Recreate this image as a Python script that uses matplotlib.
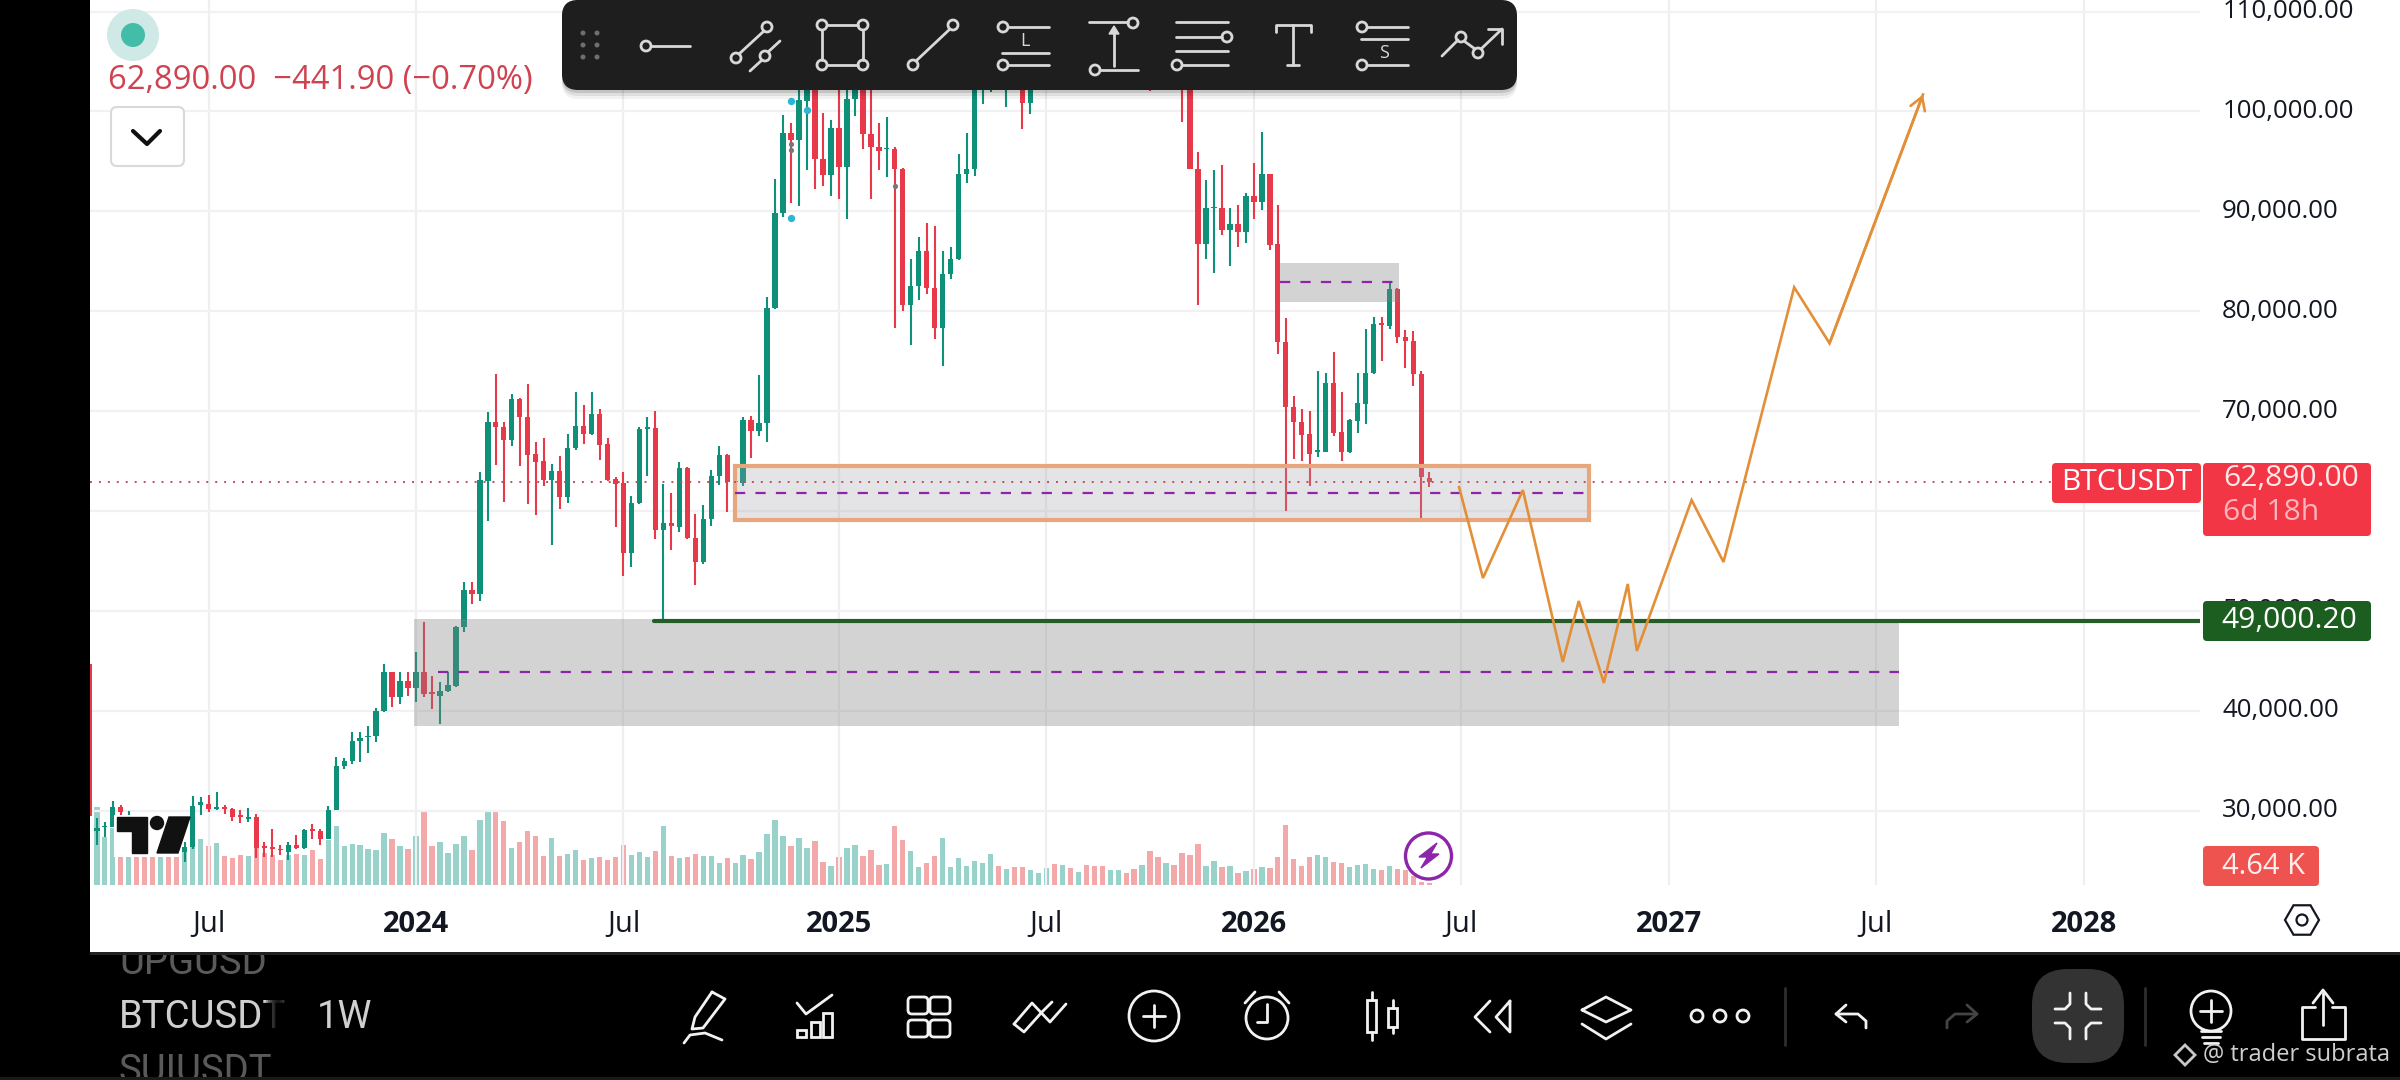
import numpy as np
import pandas as pd
import matplotlib
matplotlib.use("Agg")
import matplotlib.pyplot as plt
import matplotlib.dates as mdates
from matplotlib import patches
from matplotlib.transforms import ScaledTranslation

plt.rcParams['font.family'] = ['Open Sans', 'DejaVu Sans']

# weekly candles (hidden ones behind logo / toolbar are estimates)
opens = [44700,
    28000,28400,28400,30400,27000,27400,27000,26800,26500,27500,
    26200,25900,26400,30600,30700,30200,30370,30130,29530,29130,
    29400,26470,26370,26200,25870,26600,26270,28130,28000,27130,
    30030,34530,35030,37030,37370,37470,40000,43870,41370,43030,
    42270,43930,41870,41530,42030,42530,48370,52130,51700,63030,
    68930,68370,67130,71200,69370,65700,65000,63130,64030,61370,
    66270,68470,67700,69700,66700,63200,62800,55800,60800,68200,
    68270,58130,58800,58400,64270,57270,54870,59200,63530,65600,
    62930,62800,69100,68030,68800,80370,89800,97800,97130,101030,
    104500,95200,93600,98370,94470,101270,104500,97700,96470,96200,
    96200,94270,80600,82530,86030,82370,78370,83770,85200,93700,
    94270,103500,104400,106000,104000,105500,106000,100870,107500,109000,
    117500,116000,118500,113500,117500,115500,111500,108500,111000,115500,
    115300,109500,112000,109500,107000,110000,105000,103000,94270,86700,
    90330,90370,88130,88700,87930,91530,90930,93700,86700,76930,
    70370,68870,67700,65930,65930,72800,67870,65930,69030,70700,
    73800,78800,78530,82200,77470,77030,73700,63332]
highs = [44700,
    29300,28900,31000,30600,30000,27700,27400,27200,27800,27700,
    26900,26900,31500,31400,31600,31870,30530,30270,30030,30270,
    29700,26870,28200,26600,26870,27600,28130,28700,28130,30470,
    35370,35270,37870,37930,38470,40270,44700,43870,43870,43870,
    45870,48930,43530,42870,43870,48530,52870,52930,63930,69930,
    73700,68930,71700,71300,72700,66870,67270,64700,65470,67700,
    71900,70600,71900,70200,67270,63370,63870,61470,68370,69400,
    70050,62700,61800,64930,64370,59700,60600,64130,66470,65700,
    64600,69370,69530,73600,81470,93270,99600,98870,104000,106000,
    106500,99870,99130,103000,105000,106000,106500,103000,98800,99470,
    96470,94370,85270,87470,88800,88530,86030,86470,95700,97870,
    105000,106000,107000,111000,109000,110000,108000,110000,112000,118000,
    123000,120000,119500,119000,124000,117000,113500,113000,116500,118000,
    116000,114000,114000,111500,111000,111000,107000,105000,95930,93130,
    94130,94600,90370,90600,91800,94800,97930,93700,90600,79370,
    71470,70200,70030,74030,73870,75930,71930,69200,73800,78270,
    79470,79470,82800,82370,78130,78030,74030,63870]
lows = [29500,
    26600,27400,28400,27200,26900,26600,26300,26200,26400,26000,
    25600,24900,26200,29600,29870,30030,29630,28930,28800,28870,
    25270,25370,25370,25600,25030,26200,26130,27200,26600,27130,
    30030,34200,34700,34930,35800,36870,39930,40370,40700,41530,
    40870,41370,40200,38700,41930,42370,47870,50700,51030,59030,
    64630,60870,66470,64530,60700,59600,62470,56600,60200,60800,
    66130,66700,67600,65130,63030,58370,53530,54370,60700,63530,
    57200,49000,56130,57870,57200,52600,54700,58530,62600,59930,
    59030,62530,65270,67530,66930,80270,89470,90870,90530,94130,
    92200,92530,91530,91200,89270,99530,96200,91270,94130,93470,
    78370,80030,76600,81130,81700,77270,74530,83200,85130,92870,
    93530,100700,102000,103000,100430,103000,98200,99700,105500,108000,
    115000,114500,112000,112500,116500,110500,107500,107500,110500,114500,
    108500,108000,102030,105000,104000,103500,98930,94200,80600,85270,
    83800,87600,84530,86470,86800,89270,90130,86130,75700,60030,
    65200,65030,62530,65370,65930,67470,65030,65800,67800,68700,
    73700,75030,78270,76870,74370,72530,59200,62430]
closes = [29500,
    28300,28500,30400,29900,27400,27000,26800,26500,27500,26200,
    25900,26400,30500,30900,30130,30400,30200,29330,29330,29370,
    26270,26270,26200,26030,26530,26270,28030,28000,27130,30030,
    34530,35030,37030,37330,37530,40000,43870,41370,43030,42270,
    43930,41700,41730,42030,42600,48370,52130,51730,63130,68930,
    68370,67130,71200,69370,65600,64930,63130,64030,61370,66270,
    68470,67700,69700,66600,63130,62700,55800,60800,68200,68370,
    58130,58800,58470,64270,57270,54870,59200,63530,65600,62870,
    63000,69100,68030,68800,80370,89870,97870,97130,101130,104500,
    95200,93600,98370,94470,101270,104500,97700,96470,96030,96300,
    94270,80600,82530,86030,82370,78370,83770,85200,93700,94270,
    103500,104500,106000,104000,105500,104000,100870,107500,109000,117500,
    116000,118500,113500,117500,115500,111500,108500,111000,115500,115300,
    109500,112000,109500,107000,110000,105000,103000,94270,86700,90370,
    90470,88130,88700,87930,91530,90930,93700,86600,76930,70370,
    68870,67600,65700,66100,72800,67800,65930,69130,70800,73800,
    78700,78670,82200,77470,77030,73700,63370,62890]
# volume in thousands
volumes = [0,
    210,130,153,144,120,110,100,105,100,95,
    110,99,108,123,105,114,78,72,81,78,
    99,87,81,68,81,84,81,95,70,122,
    158,105,111,108,97,95,140,123,105,97,
    132,198,104,116,87,111,132,95,176,203,
    201,174,99,116,146,132,78,126,78,83,
    95,68,72,75,68,75,108,81,89,75,
    92,158,78,73,75,84,77,78,60,74,
    60,81,70,90,138,176,131,104,126,99,
    119,63,50,75,99,108,78,95,54,57,
    158,122,92,48,60,78,126,48,73,51,
    65,60,84,51,43,48,48,41,32,45,
    57,54,45,35,53,51,50,41,41,32,
    42,54,92,75,60,54,87,81,111,51,
    65,48,51,32,38,43,49,45,75,162,
    69,51,75,81,75,61,59,48,53,56,
    42,41,51,43,41,23,9,4.64]
week_dates = pd.date_range("2023-03-20", periods=len(opens), freq="7D")

price_ticks = [30000, 40000, 50000, 60000, 70000, 80000, 90000, 100000, 110000]
time_ticks = ["2023-07-03", "2024-01-01", "2024-07-01", "2025-01-06", "2025-07-07",
              "2026-01-05", "2026-07-06", "2027-01-04", "2027-07-05", "2028-01-03"]
time_labels = ["Jul", "2024", "Jul", "2025", "Jul", "2026", "Jul", "2027", "Jul", "2028"]

# drawing on the chart
path_dates = ["2026-07-04", "2026-07-25", "2026-08-29", "2026-10-03", "2026-10-17", "2026-11-08",
              "2026-11-29", "2026-12-07", "2027-01-24", "2027-02-21", "2027-04-24", "2027-05-25", "2027-08-15"]
path_prices = [62400, 53300, 62100, 44900, 51000, 42800, 52700, 46000, 61100, 54900, 82400, 76800, 101700]
big_zone = ["2023-12-30", "2027-07-25", 38530, 49200, 43900]
top_zone = ["2026-01-28", "2026-05-12", 80930, 84800, 82930]
mid_zone = ["2024-10-07", "2026-10-26", 59130, 64500, 61800]
last_price = 62890.00
support = 49000.20
support_start = "2024-07-28"

W, H = 2400, 1080
CHART_R, CHART_B = 2200, 885
GREEN, RED = '#0f9078', '#e8394a'
VOL_G, VOL_R = '#98d2cb', '#f3a9aa'
PURPLE = '#8e24aa'
LABEL_FS = 21.6


def dnum(s):
    return mdates.date2num(pd.Timestamp(s))


x = mdates.date2num(week_dates)
o, h, l, c = map(np.array, (opens, highs, lows, closes))
up = c >= o

fig = plt.figure(figsize=(24, 10.8), dpi=100, facecolor='white')
ax = fig.add_axes([90 / W, (H - CHART_B) / H, (CHART_R - 90) / W, CHART_B / H], zorder=2)
ax.patch.set_visible(False)
ax_vol = ax.twinx()
ax_vol.set_zorder(1)
ax_vol.patch.set_visible(True)
ax_vol.patch.set_facecolor('white')

ax.set_xlim(dnum("2023-03-21"), dnum("2028-04-14"))
ax.set_ylim(22570, 111160)

# volume pane sits on the same baseline, 2.7K per pixel
ax_vol.bar(x, volumes, width=4.7, color=[VOL_G if u else VOL_R for u in up], linewidth=0)
ax_vol.set_ylim(0, CHART_B * 2.7)
ax_vol.set_yticks([])

# candles
colors = [GREEN if u else RED for u in up]
ax.vlines(x, l, h, colors=colors, linewidth=1.5, zorder=3)
ax.bar(x, np.abs(c - o), bottom=np.minimum(o, c), width=4.7, color=colors, linewidth=0, zorder=3)

# small signal dots on the candles
ax.scatter(x[[88, 88, 90]], [101030, 89370, 100130], s=28, color='#2bb7d2', zorder=4, linewidth=0)
ax.scatter(x[[88, 88, 101]], [96770, 96130, 92530], s=14, color='#777777', zorder=4, linewidth=0)

# axes, grid
ax.set_xticks([dnum(t) for t in time_ticks], time_labels)
ax.set_yticks(price_ticks, [f"{p:,.2f}" for p in price_ticks])
ax.yaxis.tick_right()
ax.tick_params(axis='both', length=0, colors='#131722')
ax.tick_params(axis='y', labelsize=18.6, pad=16)
ax.tick_params(axis='x', labelsize=21, pad=18)
for lab, txt in zip(ax.get_xticklabels(), time_labels):
    if txt != "Jul":
        lab.set_fontweight('bold')
# the scale text sits a little above its gridline
for lab in ax.get_yticklabels():
    lab.set_transform(lab.get_transform() + ScaledTranslation(0, 3 / 100, fig.dpi_scale_trans))
ax.grid(axis='y', color='#f1f1f3', linewidth=1.6)
ax_vol.xaxis.set_visible(True)
ax_vol.tick_params(axis='x', length=0, labelbottom=False)
ax_vol.grid(axis='x', color='#efeff1', linewidth=1.6)
for a in (ax, ax_vol):
    for s in a.spines.values():
        s.set_visible(False)


def zone(z, face, edge=None, lw=0.0, dash_from=None):
    x0, x1 = dnum(z[0]), dnum(z[1])
    ax.add_patch(patches.Rectangle((x0, z[2]), x1 - x0, z[3] - z[2], facecolor=face,
                                   edgecolor=edge if edge else 'none', linewidth=lw, zorder=5))
    ax.plot([dnum(dash_from) if dash_from else x0, x1], [z[4], z[4]], color=PURPLE, linewidth=1.6,
            linestyle=(0, (4.6, 4.6)), zorder=6)


zone(big_zone, (0.5, 0.5, 0.5, 0.34), dash_from="2024-01-20")
zone(top_zone, (0.5, 0.5, 0.5, 0.34))
zone(mid_zone, (0.62, 0.62, 0.66, 0.28), edge='#e8a67d', lw=3.0)

ax.axhline(last_price, color='#b9525e', linewidth=1.4, linestyle=(0, (1, 3.6)), zorder=6)
ax.plot([dnum(support_start), ax.get_xlim()[1]], [support, support], color='#255c28', linewidth=3,
        solid_capstyle='round', zorder=6)

px, py = [dnum(d) for d in path_dates], path_prices
ax.plot(px, py, color='#e38f38', linewidth=1.9, zorder=7, solid_joinstyle='miter')
ax.annotate("", xy=(px[-1], py[-1]), xytext=(px[-2], py[-2]),
            arrowprops=dict(arrowstyle='->,head_length=0.9,head_width=0.55', color='#e38f38', lw=1.9, shrinkA=0, shrinkB=0),
            zorder=7)

# screen chrome, in pixel coordinates
ov = fig.add_axes([0, 0, 1, 1], zorder=10)
ov.set_xlim(0, W)
ov.set_ylim(H, 0)
ov.axis('off')


def rect(x0, y0, w, h_, color, r=0, z=1, ec='none', lw=0, alpha=None):
    if r:
        p = patches.FancyBboxPatch((x0, y0), w, h_, boxstyle=f"round,pad=0,rounding_size={r}",
                                   facecolor=color, edgecolor=ec, linewidth=lw, zorder=z, alpha=alpha)
    else:
        p = patches.Rectangle((x0, y0), w, h_, facecolor=color, edgecolor=ec, linewidth=lw, zorder=z, alpha=alpha)
    ov.add_patch(p)


def line(pts, color='#d8d8d8', lw=2.0, z=3):
    xs, ys = zip(*pts)
    ov.plot(xs, ys, color=color, linewidth=lw, zorder=z, solid_capstyle='round', solid_joinstyle='round')


def ring(cx, cy, r, color='#d8d8d8', lw=2.0, z=4, face='none'):
    ov.add_patch(patches.Circle((cx, cy), r, facecolor=face, edgecolor=color, linewidth=lw, zorder=z))


# screen edges
rect(0, 0, 90, 952, 'black')
rect(0, 952, W, 128, 'black')
rect(90, 952, W - 90, 3, '#222222')
rect(0, 1077, W, 3, '#1a1a1a', z=6)

# top-left status
ring(133, 35, 26, color='none', face='#cfeae6', z=2)
ring(133, 35, 12, color='none', face='#43bda8', z=3)
ov.text(108, 80, "62,890.00  \u2212441.90 (\u22120.70%)", color='#cf4250', fontsize=23.6, va='center', zorder=3)
rect(111, 107, 73, 59, 'white', r=6, ec='#d9d9d9', lw=1.5)
line([(133, 131), (147, 144), (160, 131)], color='#111111', lw=3)

# drawing toolbar
for k, a_ in ((9, 0.05), (6, 0.08), (3, 0.12)):
    rect(562, 0, 955, 90 + k, 'black', r=16, z=1.5, alpha=a_)
rect(562, 0, 955, 90, '#1e1e1e', r=16, z=2)
for gx in (583, 597):
    for gy in (33, 45, 57):
        ring(gx, gy, 2.5, color='none', face='#6f6f6f')
ring(646, 46, 5)
line([(651, 46), (690, 46)])
ring(736, 58, 5); ring(767, 27, 5); ring(765, 56, 5)
line([(739, 54), (764, 31)])
line([(750, 71), (762, 60)]); line([(768, 52), (780, 41)])
for cx, cy in ((822, 25), (863, 25), (822, 65), (863, 65)):
    ring(cx, cy, 5)
line([(827, 25), (858, 25)]); line([(827, 65), (858, 65)]); line([(822, 30), (822, 60)]); line([(863, 30), (863, 60)])
ring(913, 65, 5); ring(953, 25, 5)
line([(916, 61), (950, 29)])
ring(1003, 27, 5); ring(1003, 65, 5)
line([(1008, 27), (1049, 27)]); line([(1002, 53), (1049, 53)]); line([(1008, 65), (1049, 65)])
ov.text(1025, 41, "L", color='#d8d8d8', fontsize=13, ha='center', va='center', zorder=4)
ring(1133, 23, 5); ring(1095, 70, 5)
line([(1089, 22), (1128, 22)]); line([(1100, 70), (1138, 70)]); line([(1114, 66), (1114, 32)])
ov.add_patch(patches.Polygon([(1109, 34), (1119, 34), (1114, 26)], color='#d8d8d8', zorder=4))
line([(1176, 22), (1228, 22)]); line([(1176, 37), (1222, 37)]); line([(1176, 51), (1228, 51)]); line([(1182, 65), (1228, 65)])
ring(1227, 37, 5); ring(1177, 65, 5)
line([(1276, 32), (1276, 25), (1311, 25), (1311, 32)]); line([(1293, 25), (1293, 65)]); line([(1287, 65), (1299, 65)])
ring(1362, 27, 5); ring(1362, 65, 5)
line([(1367, 27), (1408, 27)]); line([(1361, 39), (1408, 39)]); line([(1367, 65), (1408, 65)])
ov.text(1384, 53, "S", color='#d8d8d8', fontsize=13, ha='center', va='center', zorder=4)
line([(1442, 56), (1458, 40)]); line([(1464, 41), (1475, 49)]); line([(1481, 49), (1502, 29)])
line([(1488, 29), (1502, 29), (1502, 44)])
ring(1461, 37, 5); ring(1478, 53, 5)

# watermark logo in the chart
rect(114, 815, 66, 42, 'white', z=1)
ov.add_patch(patches.Polygon([(117, 817), (147, 817), (147, 853), (132, 853), (132, 831), (117, 831)], color='#111111', zorder=2))
ov.add_patch(patches.Circle((157, 823), 6.5, color='#111111', zorder=2))
ov.add_patch(patches.Polygon([(169, 817), (190, 817), (178, 853), (157, 853)], color='#111111', zorder=2))

# bolt badge
ring(1428.5, 856, 23, color=PURPLE, lw=2.4, face='white', z=2)
ov.add_patch(patches.Polygon([(1437, 843), (1419, 857), (1427.5, 857), (1421, 868), (1439, 854), (1430.6, 854)], color=PURPLE, zorder=3))

# price scale labels
rect(2052, 463, 149, 40, '#f23645', r=4)
ov.text(2127, 483, "BTCUSDT", color='white', fontsize=LABEL_FS, ha='center', va='center', zorder=3)
rect(2203, 463, 168, 73, '#f23645', r=4)
ov.text(2223, 479, "62,890.00", color='#fde9ea', fontsize=LABEL_FS, va='center', zorder=3)
ov.text(2223, 513, "6d 18h", color='#fbb5bb', fontsize=LABEL_FS, va='center', zorder=3)
rect(2203, 601, 168, 40, '#1b5e20', r=4)
ov.text(2221, 621, "49,000.20", color='white', fontsize=LABEL_FS, va='center', zorder=3)
rect(2203, 846, 116, 40, '#ef5350', r=4)
ov.text(2222, 866, "4.64 K", color='#fdeeee', fontsize=21, va='center', zorder=3)
ov.add_patch(patches.RegularPolygon((2302, 920), 6, radius=17, orientation=np.pi / 6, facecolor='none', edgecolor='#131722', linewidth=1.6, zorder=3))
ring(2302, 920, 5.5, color='#131722', lw=1.6)

# bottom bar
clip_top = patches.Rectangle((0, 955), W, 122, transform=ov.transData)
for txt, tx, ty, col in (("UPGUSD", 119, 963, '#5a5a5a'), ("BTCUSDT", 119, 1017, '#cfcfcf'),
                         ("1W", 317, 1017, '#cfcfcf'), ("SUIUSDT", 119, 1072, '#5a5a5a')):
    t = ov.text(tx, ty, txt, color=col, fontsize=27.5, family=['Roboto', 'DejaVu Sans'], va='center', zorder=3)
    t.set_clip_path(clip_top)
    t.set_clip_on(True)
for k in range(6):
    rect(266 + k * 2, 990, 14, 50, 'black', z=4, alpha=0.3)

W_ = '#f2f2f2'
line([(712, 992), (725, 999), (703, 1028), (692, 1029), (695, 1017), (712, 992)], W_)
line([(684, 1043), (690, 1035), (705, 1033), (722, 1040)], W_)
line([(797, 1003), (806, 1014), (832, 995)], W_)
for bx, by in ((797, 1030), (811, 1022), (823, 1013)):
    rect(bx, by, 9, 1037 - by, 'none', ec=W_, lw=2, z=3)
for bx in (908, 930):
    for by in (997, 1020):
        rect(bx, by, 20, 17, 'none', r=4, ec=W_, lw=2, z=3)
line([(1014, 1024), (1032, 1003), (1050, 1022), (1066, 1004)], W_)
line([(1014, 1024), (1024, 1032), (1042, 1012), (1052, 1002)], W_)
ring(1154, 1016, 25, W_)
line([(1143, 1016), (1165, 1016)], W_); line([(1154, 1005), (1154, 1027)], W_)
ring(1267, 1018, 21, W_)
line([(1267, 1004), (1267, 1022), (1257, 1022)], W_)
line([(1245, 1003), (1255, 992)], W_); line([(1279, 992), (1289, 1003)], W_)
for bx, bw, t0, t1, w0, w1 in ((1367, 9, 1000, 1032, 992, 1040), (1388, 9, 1008, 1027, 1000, 1033)):
    rect(bx, t0, bw, t1 - t0, 'none', ec=W_, lw=2, z=3)
    line([(bx + bw / 2, w0), (bx + bw / 2, t0)], W_); line([(bx + bw / 2, t1), (bx + bw / 2, w1)], W_)
line([(1490, 1001), (1475, 1017), (1490, 1032)], W_)
line([(1510, 1001), (1496, 1017), (1510, 1032), (1510, 1001)], W_)
line([(1582, 1010), (1606, 997), (1631, 1010), (1606, 1022), (1582, 1010)], W_)
line([(1582, 1024), (1606, 1039), (1631, 1024)], W_)
for cx in (1697, 1720, 1743):
    ring(cx, 1016, 6, W_)
line([(1785, 988), (1785, 1045)], '#2e2e2e')
line([(2145, 988), (2145, 1045)], '#2e2e2e')
line([(1846, 1005), (1836, 1014), (1846, 1022)], W_)
line([(1836, 1014), (1858, 1014), (1866, 1021), (1866, 1028)], W_)
line([(1967, 1005), (1977, 1014), (1967, 1022)], '#444444')
line([(1977, 1014), (1955, 1014), (1947, 1021), (1947, 1028)], '#444444')
rect(2032, 969, 92, 94, '#333333', r=36, z=2)
for pts in ([(2070, 993), (2070, 1004), (2065, 1009), (2055, 1009)], [(2086, 993), (2086, 1004), (2091, 1009), (2101, 1009)],
            [(2055, 1023), (2065, 1023), (2070, 1028), (2070, 1039)], [(2101, 1023), (2091, 1023), (2086, 1028), (2086, 1039)]):
    line(pts, W_)
ring(2211, 1011, 20, W_)
line([(2200, 1011), (2222, 1011)], W_); line([(2211, 1000), (2211, 1022)], W_)
line([(2201, 1031), (2221, 1031)], W_); line([(2202, 1037), (2220, 1037)], W_); line([(2204, 1043), (2218, 1043)], W_)
line([(2315, 1007), (2302, 1007), (2302, 1039), (2345, 1039), (2345, 1007), (2332, 1007)], W_)
line([(2323, 993), (2323, 1025)], W_); line([(2313, 1003), (2323, 990), (2333, 1003)], W_)
ov.add_patch(patches.RegularPolygon((2185, 1055), 4, radius=10, facecolor='none', edgecolor='#c8c8c8', linewidth=2, zorder=5))
ov.text(2203, 1055, "@ trader subrata", color='#cfcfcf', fontsize=17, va='center', zorder=5)

fig.savefig("out.png", dpi=100)
